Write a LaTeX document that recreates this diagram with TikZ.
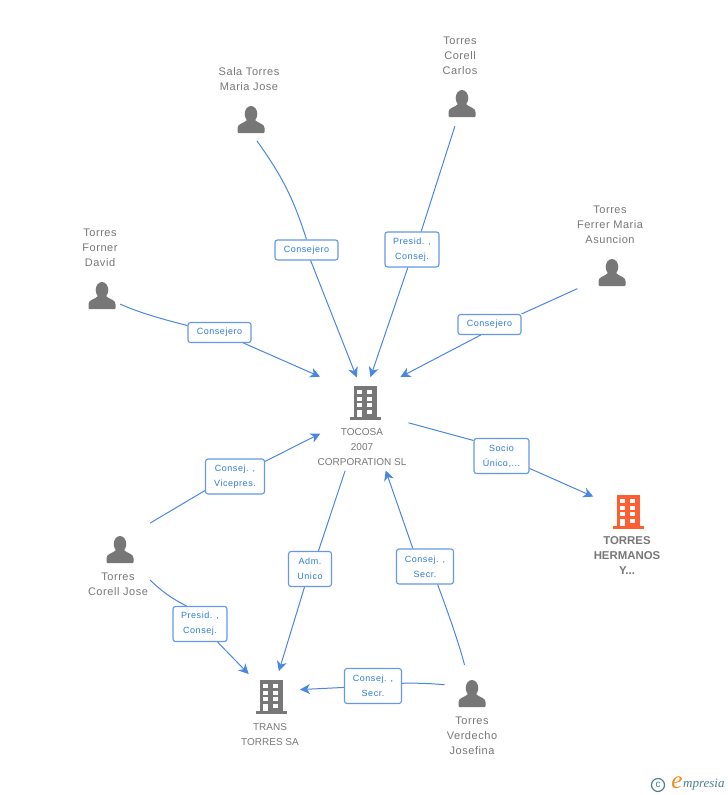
\documentclass[tikz,border=0pt]{standalone}
\usepackage{fontspec}
\setmainfont{Liberation Sans}
\newfontfamily\rolefont[LetterSpace=6]{Liberation Sans}
\newfontfamily\entityfont[LetterSpace=5]{Liberation Sans}
\newfontfamily\logofont{Liberation Serif}
\usetikzlibrary{arrows.meta}
\definecolor{linkblue}{HTML}{4A86E4}
\definecolor{rolegray}{HTML}{777777}
\definecolor{rolered}{HTML}{FF5E33}
\definecolor{roletext}{HTML}{2F7BE0}
\definecolor{logoteal}{HTML}{4A7F96}
\definecolor{logoorange}{HTML}{F28A1E}
\tikzset{
    person/.pic={
        \fill[rolegray] (0,-6) ellipse (6.3 and 8);
        \fill[rolegray] (-13.5,12) .. controls (-13.5,13) .. (-12.5,13) -- (12.5,13) .. controls (13.5,13) .. (13.5,12) -- (13.5,8) .. controls (13.5,3.5) and (7,3.5) .. (4,0) -- (-4,0) .. controls (-7,3.5) and (-13.5,3.5) .. (-13.5,8) -- cycle;
    },
    building/.pic={
        \fill[#1] (-11.5,-17) rectangle (11.5,14);
        \fill[#1] (-15.5,14) rectangle (15.5,17);
        \foreach \wy in {-13,-6.3,0.3}{
            \fill[white] (-7.7,\wy) rectangle (-3.2,\wy+4);
            \fill[white] (2.3,\wy) rectangle (6.8,\wy+4);
        }
        \fill[white] (-7.7,7) rectangle (-3.2,14.3);
        \fill[white] (2.3,7) rectangle (6.8,11);
    },
    entity/.style={text=rolegray,align=center,font=\entityfont\fontsize{11}{15}\selectfont},
    firm/.style={text=rolegray,align=center,font=\fontsize{10}{15}\selectfont},
    role/.style={draw=linkblue!85,line width=1.1pt,fill=white,rounded corners=2.5pt,text=roletext,align=center,inner sep=0pt,minimum width=#1,font=\rolefont\fontsize{9}{15}\selectfont},
    link/.style={draw=linkblue,line width=1pt},
    arrow/.style={link,-{Stealth[length=10pt,width=10pt,inset=3pt]}}
}
\begin{document}
\begin{tikzpicture}[x=1pt,y=-1pt]
    \useasboundingbox (0,0) rectangle (728,795);
    % people and firms
    \coordinate (sala) at (251,120);
    \coordinate (carlos) at (462,104);
    \coordinate (ferrer) at (612,273);
    \coordinate (forner) at (102,296);
    \coordinate (jose) at (120,550);
    \coordinate (verdecho) at (472,694);
    \coordinate (tocosa) at (365,403);
    \coordinate (trans) at (271,697);
    \coordinate (hermanos) at (628,512);
    % where the links really meet
    \coordinate (tocosatop) at (364,396);
    \coordinate (tocosalow) at (365,411);
    \coordinate (transside) at (271,691);
    \coordinate (josetop) at (120,541);
    \coordinate (joseout) at (150,580);
    \coordinate (salaout) at (257,141);
    \pic at (sala) {person};
    \pic at (carlos) {person};
    \pic at (ferrer) {person};
    \pic at (forner) {person};
    \pic at (jose) {person};
    \pic at (verdecho) {person};
    \pic at (tocosa) {building=rolegray};
    \pic at (trans) {building=rolegray};
    \pic at (hermanos) {building=rolered};
    \node[entity] (salatext) at (249,79.5) {Sala Torres\\Maria Jose};
    \node[entity] (carlostext) at (460,56) {Torres\\Corell\\Carlos};
    \node[entity] (ferrertext) at (610,225) {Torres\\Ferrer Maria\\Asuncion};
    \node[entity] (fornertext) at (100,248) {Torres\\Forner\\David};
    \node[entity] (josetext) at (118,584.5) {Torres\\Corell Jose};
    \node[entity] (verdechotext) at (472,736) {Torres\\Verdecho\\Josefina};
    \node[firm] (tocosatext) at (362,447) {TOCOSA\\2007\\CORPORATION SL};
    \node[firm] (transtext) at (270,734.5) {TRANS\\TORRES SA};
    \node[firm,font=\fontsize{11.4}{15}\selectfont\bfseries] (hermanostext) at (627,556) {TORRES\\HERMANOS\\Y...};
    % roles
    \node[role=63pt,minimum height=20pt] (r1) at (306.5,250) {Consejero};
    \node[role=54pt,minimum height=35pt] (r2) at (412,249.5) {Presid. ,\\Consej.};
    \node[role=63pt,minimum height=20pt] (r3) at (489.5,324.5) {Consejero};
    \node[role=63pt,minimum height=20pt] (r4) at (219.5,332.5) {Consejero};
    \node[role=59pt,minimum height=35pt] (r5) at (235,476.5) {Consej. ,\\Vicepres.};
    \node[role=55pt,minimum height=35pt] (r6) at (501.5,456) {Socio\\Único,...};
    \node[role=43pt,minimum height=35pt] (r7) at (310,569) {Adm.\\Unico};
    \node[role=57pt,minimum height=35pt] (r8) at (425,566.5) {Consej. ,\\Secr.};
    \node[role=54pt,minimum height=35pt] (r9) at (200,624) {Presid. ,\\Consej.};
    \node[role=57pt,minimum height=35pt] (r10) at (373,686) {Consej. ,\\Secr.};
    % connectors
    \draw[link] (salaout) to[bend left=9] (r1.north);
    \draw[arrow,shorten >=20pt] (r1) -- (tocosatop);
    \draw[link,shorten <=23pt] (carlos) -- (r2.63);
    \draw[arrow,shorten >=20pt] (r2.-103) -- (tocosatop);
    \draw[link,shorten <=38pt] (ferrer) -- (r3.north east);
    \draw[arrow,shorten >=41pt] (r3.-130) -- (tocosatop);
    \draw[link,shorten <=20pt] (forner) to[bend right=5] (r4);
    \draw[arrow,shorten >=48pt] (r4) -- (tocosatop);
    \draw[link,shorten <=35pt] (josetop) -- (r5.-155);
    \draw[arrow,shorten >=50pt] (r5) -- (tocosalow);
    \draw[link,shorten <=45pt] (tocosalow) -- (r6.151);
    \draw[arrow,shorten >=38pt] (r6) -- (hermanos);
    \draw[link,shorten <=63pt] (tocosalow) -- (r7.65);
    \draw[arrow,shorten >=27pt] (r7) -- (trans);
    \draw[link,shorten <=30pt] (verdecho) to[bend right=3] (r8.-55);
    \draw[arrow,shorten >=63pt] (r8.124) -- (tocosalow);
    \draw[link] (joseout) to[bend right=8] (r9.127);
    \draw[arrow,shorten >=32pt] (r9) -- (trans);
    \draw[link,shorten <=29pt] (verdecho) to[bend right=10] (r10);
    \draw[arrow,shorten >=29pt] (r10) -- (transside);
    % logo
    \node[text=logoteal,draw=logoteal,line width=1.2pt,circle,inner sep=0pt,minimum size=13pt,font=\fontsize{10}{10}\selectfont] (logoc) at (658,785) {c};
    \node[text=logoorange,font=\logofont\itshape\fontsize{25}{25}\selectfont,inner sep=0pt] (logoe) at (677,783) {e};
    \node[text=logoteal,font=\logofont\itshape\fontsize{13}{13}\selectfont,inner sep=0pt,anchor=west] (logot) at (683,785) {mpresia};
\end{tikzpicture}
\end{document}
